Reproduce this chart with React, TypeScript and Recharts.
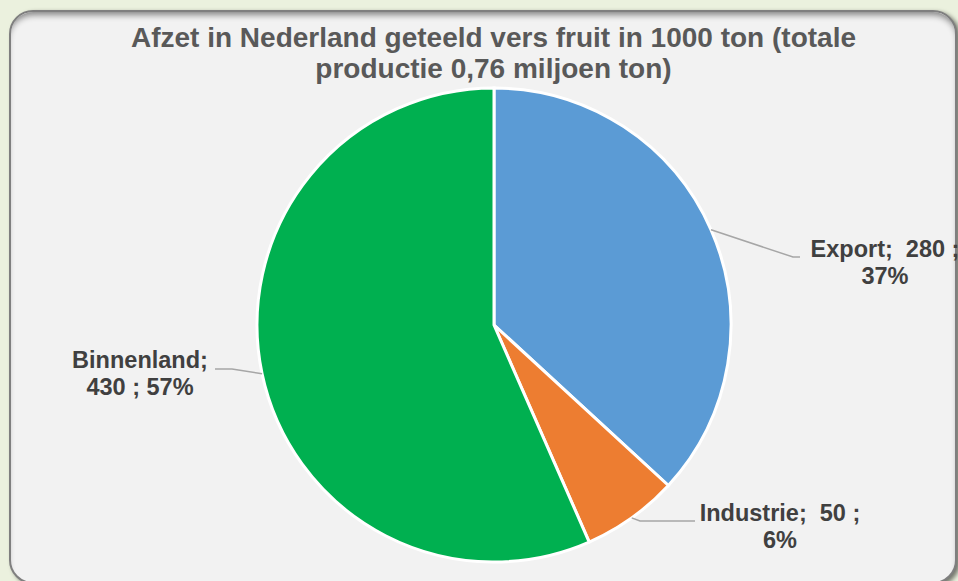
import React from "react"
import { PieChart, Pie, Cell } from "recharts"

const categories = ["Export", "Industrie", "Binnenland"]
const values = [280, 50, 430]
const percentLabels = ["37%", "6%", "57%"]
const colors = ["#5b9bd5", "#ed7d31", "#00b050"]

const data = categories.map((name, i) => ({ name, value: values[i] }))

// label placement per slice: elbow point, line end, text centre (first baseline) and line texts
const labelLayout = [
  { elbow: [793, 257], end: [800, 257], text: [885, 257], lines: [`Export;  ${values[0]} ;`, percentLabels[0]] },
  { elbow: [640, 521], end: [695, 521], text: [780, 521], lines: [`Industrie;  ${values[1]} ;`, percentLabels[1]] },
  { elbow: [232, 369], end: [215, 369], text: [140, 368], lines: ["Binnenland;", `${values[2]} ; ${percentLabels[2]}`] },
]

const RADIAN = Math.PI / 180

function renderLabel(props: any) {
  const { cx, cy, outerRadius, midAngle, index } = props
  const sx = cx + outerRadius * Math.cos(-midAngle * RADIAN)
  const sy = cy + outerRadius * Math.sin(-midAngle * RADIAN)
  const l = labelLayout[index]
  return (
    <g>
      <polyline
        points={`${sx},${sy} ${l.elbow[0]},${l.elbow[1]} ${l.end[0]},${l.end[1]}`}
        fill="none"
        stroke="#a6a6a6"
        strokeWidth={1.5}
      />
      <text
        x={l.text[0]}
        y={l.text[1]}
        textAnchor="middle"
        fill="#404040"
        fontSize={23.5}
        fontWeight="bold"
        fontFamily="'Liberation Sans', Arial, sans-serif"
        style={{ whiteSpace: "pre" }}
      >
        <tspan x={l.text[0]} dy={0}>{l.lines[0]}</tspan>
        <tspan x={l.text[0]} dy={27}>{l.lines[1]}</tspan>
      </text>
    </g>
  )
}

export default function App() {
  return (
    <div
      style={{
        position: "absolute",
        left: 0,
        top: 0,
        width: 958,
        height: 581,
        overflow: "hidden",
        background: "#ebf1de",
        fontFamily: "'Liberation Sans', Arial, sans-serif",
      }}
    >
      <div
        style={{
          position: "absolute",
          left: 9,
          top: 10,
          width: 944,
          height: 570,
          background: "#f2f2f2",
          border: "2px solid #7f7f7f",
          borderRadius: 24,
          boxShadow: "inset 0 6px 6px -3px rgba(0,0,0,0.45), 3px 2px 4px rgba(0,0,0,0.5)",
        }}
      />
      <div
        style={{
          position: "absolute",
          left: 0,
          top: 22,
          width: 987,
          textAlign: "center",
          color: "#595959",
          fontSize: 28,
          fontWeight: "bold",
          lineHeight: "31px",
          whiteSpace: "nowrap",
        }}
      >
        Afzet in Nederland geteeld vers fruit in 1000 ton (totale
        <br />
        productie 0,76 miljoen ton)
      </div>
      <div style={{ position: "absolute", left: 0, top: 0 }}>
        <PieChart width={958} height={581} margin={{ top: 0, right: 0, bottom: 0, left: 0 }}>
          <Pie
            data={data}
            dataKey="value"
            nameKey="name"
            cx={494}
            cy={325}
            outerRadius={237}
            startAngle={90}
            endAngle={-270}
            stroke="#ffffff"
            strokeWidth={3}
            label={renderLabel}
            labelLine={false}
            isAnimationActive={false}
          >
            {data.map((d, i) => (
              <Cell key={d.name} fill={colors[i]} />
            ))}
          </Pie>
        </PieChart>
      </div>
    </div>
  )
}
